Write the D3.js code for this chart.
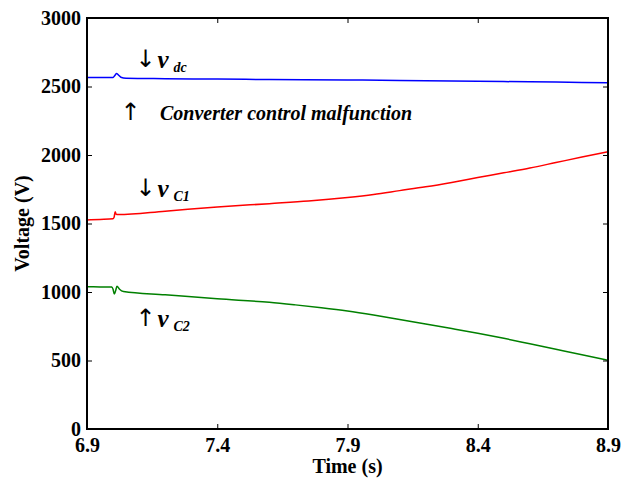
<!DOCTYPE html>
<html>
<head>
<meta charset="utf-8">
<script src="https://cdn.jsdelivr.net/npm/d3@7"></script>
<style>
  html, body { margin: 0; padding: 0; background: #fff; }
  svg { display: block; }
</style>
</head>
<body>
<svg id="chart" width="621" height="483"></svg>
<script>
// DC-link voltage v_dc (V) over time (s)
const vdcTime   = [6.9, 6.95, 7.0, 7.006, 7.013, 7.02, 7.03, 7.05, 7.2, 7.4, 7.6, 7.9, 8.1, 8.3, 8.5, 8.7, 8.9];
const vdcValues = [2565, 2565, 2566, 2578, 2595, 2585, 2568, 2560, 2557, 2554, 2551, 2548, 2544, 2540, 2536, 2532, 2528];

// Upper capacitor voltage v_C1 (V)
const vc1Time   = [6.9, 6.95, 7.0, 7.004, 7.008, 7.012, 7.02, 7.2, 7.4, 7.6, 7.75, 7.9, 8.0, 8.1, 8.2, 8.3, 8.4, 8.5, 8.6, 8.7, 8.8, 8.9];
const vc1Values = [1526, 1530, 1535, 1545, 1586, 1567, 1565, 1590, 1620, 1645, 1664, 1690, 1712, 1740, 1768, 1800, 1835, 1870, 1905, 1945, 1985, 2024];

// Lower capacitor voltage v_C2 (V)
const vc2Time   = [6.9, 6.95, 6.995, 7.0, 7.005, 7.01, 7.015, 7.025, 7.04, 7.2, 7.4, 7.6, 7.7, 7.8, 7.9, 8.0, 8.1, 8.2, 8.3, 8.4, 8.5, 8.6, 8.7, 8.8, 8.9];
const vc2Values = [1038, 1037, 1036, 1020, 985, 1010, 1042, 1020, 1004, 980, 950, 925, 906, 885, 861, 832, 800, 766, 733, 699, 662, 622, 582, 542, 501];

const xTicks = [6.9, 7.4, 7.9, 8.4, 8.9];
const yTicks = [0, 500, 1000, 1500, 2000, 2500, 3000];

const SERIF = '"Liberation Serif", "Times New Roman", Tinos, "DejaVu Serif", serif';
const ARROW_FONT = '"DejaVu Sans", sans-serif';

const svg = d3.select("#chart");
const margin = { left: 87, top: 18, right: 13, bottom: 54 };
const W = 621, H = 483;
const x = d3.scaleLinear().domain([6.9, 8.9]).range([margin.left, W - margin.right]);
const y = d3.scaleLinear().domain([0, 3000]).range([H - margin.bottom, margin.top]);

const series = [
  { t: vdcTime, v: vdcValues, color: "#0000ff" },
  { t: vc1Time, v: vc1Values, color: "#ff0000" },
  { t: vc2Time, v: vc2Values, color: "#008000" }
];

const line = d3.line().x(d => x(d[0])).y(d => y(d[1])).curve(d3.curveMonotoneX);

svg.append("g").selectAll("path").data(series).join("path")
  .attr("d", s => line(s.t.map((t, i) => [t, s.v[i]])))
  .attr("fill", "none")
  .attr("stroke", s => s.color)
  .attr("stroke-width", 1.5)
  .attr("stroke-linejoin", "round");

// Axes with inward ticks, mirrored on top and right
const tickLen = 5;
const axB = svg.append("g").attr("transform", `translate(0,${y(0)})`)
  .call(d3.axisBottom(x).tickValues(xTicks).tickFormat(d3.format(".1f")).tickSizeInner(-tickLen).tickSizeOuter(0).tickPadding(9));
const axT = svg.append("g").attr("transform", `translate(0,${y(3000)})`)
  .call(d3.axisTop(x).tickValues(xTicks).tickFormat("").tickSizeInner(-tickLen).tickSizeOuter(0));
const axL = svg.append("g").attr("transform", `translate(${x(6.9)},0)`)
  .call(d3.axisLeft(y).tickValues(yTicks).tickFormat(d3.format("d")).tickSizeInner(-tickLen).tickSizeOuter(0).tickPadding(6));
const axR = svg.append("g").attr("transform", `translate(${x(8.9)},0)`)
  .call(d3.axisRight(y).tickValues(yTicks).tickFormat("").tickSizeInner(-tickLen).tickSizeOuter(0));

[axB, axT, axL, axR].forEach(g => {
  g.attr("font-family", SERIF).attr("font-size", 20);
  g.select(".domain").remove();
  g.selectAll(".tick line").attr("stroke", "#000").attr("stroke-width", 1);
  g.selectAll("text").attr("fill", "#000").attr("font-weight", "bold");
});

// Frame
svg.append("rect")
  .attr("x", x(6.9)).attr("y", y(3000))
  .attr("width", x(8.9) - x(6.9)).attr("height", y(0) - y(3000))
  .attr("fill", "none").attr("stroke", "#000").attr("stroke-width", 2);

// Axis titles
svg.append("text")
  .attr("x", (x(6.9) + x(8.9)) / 2).attr("y", 473)
  .attr("text-anchor", "middle")
  .attr("font-family", SERIF).attr("font-weight", "bold").attr("font-size", 20)
  .text("Time (s)");
svg.append("text")
  .attr("transform", `translate(29,${(y(0) + y(3000)) / 2}) rotate(-90)`)
  .attr("text-anchor", "middle")
  .attr("font-family", SERIF).attr("font-weight", "bold").attr("font-size", 20)
  .text("Voltage (V)");

// Trace annotations: arrow, symbol and subscript, placed in data coordinates
const notes = [
  { t: 7.09, v: 2645, arrow: "\u2193", sub: "dc" },
  { t: 7.09, v: 1700, arrow: "\u2193", sub: "C1" },
  { t: 7.09, v: 750,  arrow: "\u2191", sub: "C2" }
];
notes.forEach(n => {
  const g = svg.append("g").attr("transform", `translate(${x(n.t)},${y(n.v)})`)
    .attr("font-family", SERIF);
  g.append("text").attr("x", -1).attr("y", 0)
    .attr("font-family", ARROW_FONT).attr("font-size", 24)
    .text(n.arrow);
  g.append("text").attr("x", 21).attr("y", 1)
    .attr("font-size", 25).attr("font-weight", "bold").attr("font-style", "italic")
    .text("v");
  g.append("text").attr("x", 37).attr("y", 5)
    .attr("font-size", 14).attr("font-weight", "bold").attr("font-style", "italic")
    .text(n.sub);
});

svg.append("text")
  .attr("x", x(7.029)).attr("y", y(2255))
  .attr("font-family", ARROW_FONT).attr("font-size", 24)
  .text("\u2191");
svg.append("text")
  .attr("x", x(7.18)).attr("y", y(2255))
  .attr("font-family", SERIF).attr("font-size", 20).attr("font-weight", "bold").attr("font-style", "italic")
  .text("Converter control malfunction");
</script>
</body>
</html>
